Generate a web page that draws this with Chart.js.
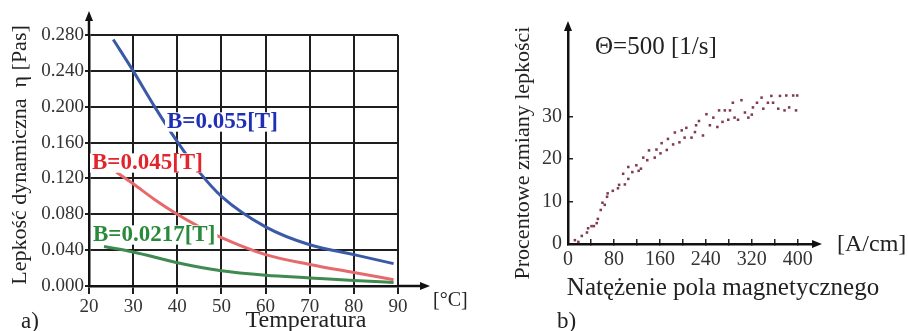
<!DOCTYPE html>
<html>
<head>
<meta charset="utf-8">
<script src="https://cdn.jsdelivr.net/npm/chart.js@4.4.1/dist/chart.umd.min.js"></script>
<style>
  html, body { margin: 0; padding: 0; background: #fff; }
  body { width: 908px; height: 331px; position: relative; overflow: hidden; }
  .box { position: absolute; top: 0; height: 331px; }
  #boxA { left: 0; width: 480px; }
  #boxB { left: 460px; width: 448px; }
</style>
</head>
<body>
<div class="box" id="boxB"><canvas id="chartB"></canvas></div>
<div class="box" id="boxA"><canvas id="chartA"></canvas></div>
<script>
// ---------- data: chart a) viscosity vs temperature ----------
const tempBlue  = [25.5, 30, 35, 40, 45, 50, 60, 70, 80, 89];
const viscBlue  = [0.275, 0.240, 0.199, 0.161, 0.127, 0.100, 0.066, 0.046, 0.035, 0.025];
const tempRed   = [26.2, 30, 35, 40, 45, 50, 60, 70, 80, 89];
const viscRed   = [0.127, 0.114, 0.096, 0.080, 0.066, 0.054, 0.035, 0.024, 0.015, 0.007];
const tempGreen = [23.4, 30, 40, 50, 60, 70, 80, 89];
const viscGreen = [0.044, 0.038, 0.026, 0.017, 0.012, 0.009, 0.006, 0.004];
const seriesLabels = ['B=0.055[T]', 'B=0.045[T]', 'B=0.0217[T]'];
const tempTicks = [20, 30, 40, 50, 60, 70, 80, 90];
const viscTicks = [0.000, 0.040, 0.080, 0.120, 0.160, 0.200, 0.240, 0.280];

// ---------- data: chart b) % viscosity change vs field strength ----------
const fieldX = [12, 18, 24, 33, 35, 41, 45, 50, 52, 57, 60, 64, 68, 69, 78, 87, 89, 96, 99, 105, 105, 112, 119, 123, 127,
                131, 138, 141, 151, 154, 161, 163, 172, 174, 183, 186, 194, 198, 203, 206, 215, 221, 223, 228, 235,
                241, 247, 253, 260, 263, 269, 273, 279, 282, 287, 290, 296, 302, 308, 314, 320, 322, 329, 337, 340,
                348, 354, 357, 366, 369, 377, 380, 385, 392, 397, 399];
const fieldY = [0.9, 0.5, 1.9, 2.7, 3.7, 4.2, 4.2, 4.9, 5.9, 8.0, 9.7, 9.2, 11.1, 11.9, 12.5, 13.1, 13.9, 16.5, 14.0, 15.3, 18.1, 16.9, 18.5, 17.2, 17.7,
                20.3, 19.7, 22.0, 20.3, 22.2, 21.3, 23.7, 22.1, 24.7, 23.4, 26.2, 23.9, 26.7, 25.0, 27.3, 25.0, 26.3, 27.9, 28.9, 25.5,
                30.5, 27.9, 29.7, 27.5, 31.4, 28.7, 31.4, 29.2, 31.4, 33.2, 29.7, 29.2, 33.8, 30.9, 29.7, 30.4, 32.1, 33.2, 34.4, 31.8,
                33.2, 34.8, 33.2, 31.8, 34.8, 31.4, 34.9, 32.1, 34.9, 31.4, 34.9];
const fieldTickLabels = [0, 80, 160, 240, 320, 400];
const changeTickLabels = [0, 10, 20, 30];

function pts(xs, ys) { return xs.map((x, i) => ({ x: x, y: ys[i] })); }

const SERIF = "'Liberation Serif', 'DejaVu Serif', serif";

// overlay plugin: axis arrows, free text, labelled boxes
const overlay = {
  id: 'overlay',
  afterDatasetsDraw(chart, args, opts) {
    const ctx = chart.ctx;
    (opts.boxes || []).forEach(t => {
      ctx.save();
      ctx.font = (t.weight || 'normal') + ' ' + t.size + 'px ' + SERIF;
      const w = ctx.measureText(t.text).width;
      ctx.fillStyle = '#fff';
      ctx.fillRect(t.x - 2, t.y - t.size * 0.42, w + 4, t.size * 0.84);
      ctx.fillStyle = t.color;
      ctx.textAlign = 'left';
      ctx.textBaseline = 'middle';
      ctx.fillText(t.text, t.x, t.y);
      ctx.restore();
    });
  },
  afterDraw(chart, args, opts) {
    const ctx = chart.ctx;
    const a = chart.chartArea;
    const ar = opts.arrows;
    if (ar) {
      ctx.save();
      ctx.strokeStyle = '#111';
      ctx.fillStyle = '#111';
      ctx.lineWidth = ar.width;
      const xTipY = a.top - ar.up;
      ctx.beginPath(); ctx.moveTo(a.left, a.top); ctx.lineTo(a.left, xTipY + 6); ctx.stroke();
      ctx.beginPath(); ctx.moveTo(a.left, xTipY); ctx.lineTo(a.left - 4, xTipY + 10); ctx.lineTo(a.left + 4, xTipY + 10); ctx.closePath(); ctx.fill();
      const tipX = a.right + ar.right;
      ctx.beginPath(); ctx.moveTo(a.right, a.bottom); ctx.lineTo(tipX - 6, a.bottom); ctx.stroke();
      ctx.beginPath(); ctx.moveTo(tipX, a.bottom); ctx.lineTo(tipX - 10, a.bottom - 4); ctx.lineTo(tipX - 10, a.bottom + 4); ctx.closePath(); ctx.fill();
      ctx.restore();
    }
    (opts.texts || []).forEach(t => {
      ctx.save();
      ctx.font = (t.weight || 'normal') + ' ' + t.size + 'px ' + SERIF;
      ctx.fillStyle = t.color || '#222';
      ctx.textAlign = t.align || 'center';
      ctx.textBaseline = 'middle';
      ctx.translate(t.x, t.y);
      if (t.rot) ctx.rotate(t.rot);
      ctx.fillText(t.text, 0, 0);
      ctx.restore();
    });
  }
};

Chart.defaults.animation = false;
Chart.defaults.font.family = SERIF;

// ---------- chart a) ----------
new Chart(document.getElementById('chartA'), {
  type: 'line',
  data: {
    datasets: [
      { label: seriesLabels[0], data: pts(tempBlue, viscBlue), borderColor: '#3a5aa8', borderWidth: 3, pointRadius: 0, tension: 0.4, cubicInterpolationMode: 'monotone', fill: false },
      { label: seriesLabels[1], data: pts(tempRed, viscRed), borderColor: '#e66a6c', borderWidth: 3, pointRadius: 0, tension: 0.4, cubicInterpolationMode: 'monotone', fill: false },
      { label: seriesLabels[2], data: pts(tempGreen, viscGreen), borderColor: '#3f8a50', borderWidth: 3, pointRadius: 0, tension: 0.4, cubicInterpolationMode: 'monotone', fill: false }
    ]
  },
  options: {
    responsive: true,
    maintainAspectRatio: false,
    layout: { padding: { top: 35, right: 82, left: 0, bottom: 0 } },
    plugins: {
      legend: { display: false },
      tooltip: { enabled: false },
      overlay: {
        arrows: { up: 24, right: 32, width: 2.5 },
        boxes: [
          { text: seriesLabels[0], x: 167, y: 122, size: 23, weight: 'bold', color: '#1f2fb6' },
          { text: seriesLabels[1], x: 92, y: 163, size: 23, weight: 'bold', color: '#e3242c' },
          { text: seriesLabels[2], x: 93, y: 235, size: 23, weight: 'bold', color: '#2a8a3c' }
        ],
        texts: [
          { text: 'Lepkość dynamiczna  η [Pas]', x: 20, y: 155, rot: -Math.PI / 2, size: 22 },
          { text: 'Temperatura', x: 306, y: 321, size: 24 },
          { text: '[°C]', x: 433, y: 301, size: 20, align: 'left' },
          { text: 'a)', x: 21, y: 322, size: 23, align: 'left' }
        ]
      }
    },
    scales: {
      x: {
        type: 'linear', min: tempTicks[0], max: tempTicks[tempTicks.length - 1],
        afterBuildTicks: s => { s.ticks = tempTicks.map(v => ({ value: v })); },
        afterFit: s => { s.height = 45; },
        ticks: { font: { size: 19, family: SERIF }, color: '#333', padding: 2, maxRotation: 0, autoSkip: false },
        grid: { color: '#1e1e1e', lineWidth: 2, tickLength: 8 },
        border: { color: '#111', width: 2.5 }
      },
      y: {
        type: 'linear', min: viscTicks[0], max: viscTicks[viscTicks.length - 1],
        afterBuildTicks: s => { s.ticks = viscTicks.map(v => ({ value: v })); },
        afterFit: s => { s.width = 89; },
        ticks: { font: { size: 19, family: SERIF }, color: '#333', padding: 1, callback: v => Number(v).toFixed(3) },
        grid: { color: '#1e1e1e', lineWidth: 2, tickLength: 4 },
        border: { color: '#111', width: 2.5 }
      }
    }
  },
  plugins: [overlay]
});

// ---------- chart b) ----------
new Chart(document.getElementById('chartB'), {
  type: 'scatter',
  data: {
    datasets: [
      { label: 'Θ=500 [1/s]', data: pts(fieldX, fieldY), backgroundColor: '#803c4e', borderColor: '#803c4e', pointStyle: 'rect', pointRadius: 1.8, borderWidth: 0 }
    ]
  },
  options: {
    responsive: true,
    maintainAspectRatio: false,
    layout: { padding: { top: 27, right: 93, left: 0, bottom: 0 } },
    plugins: {
      legend: { display: false },
      tooltip: { enabled: false },
      overlay: {
        arrows: { up: 6, right: 7, width: 2.5 },
        texts: [
          { text: 'Procentowe zmiany lepkości', x: 63, y: 153, rot: -Math.PI / 2, size: 22 },
          { text: 'Natężenie pola magnetycznego', x: 263, y: 288, size: 25 },
          { text: '[A/cm]', x: 377, y: 245, size: 24, align: 'left' },
          { text: 'Θ=500 [1/s]', x: 135, y: 47, size: 25, align: 'left' },
          { text: 'b)', x: 97, y: 322, size: 23, align: 'left' }
        ]
      }
    },
    scales: {
      x: {
        type: 'linear', min: 0, max: 430,
        ticks: { stepSize: 40, includeBounds: false, font: { size: 20, family: SERIF }, color: '#333', padding: 9, maxRotation: 0, autoSkip: false,
                 callback: v => fieldTickLabels.includes(v) ? String(v) : '' },
        afterFit: s => { s.height = 87; },
        grid: { drawOnChartArea: false, tickLength: -5, lineWidth: 1.5, color: c => (c.tick && c.tick.value > 400) ? 'rgba(0,0,0,0)' : '#222' },
        border: { color: '#111', width: 2.5 }
      },
      y: {
        type: 'linear', min: 0, max: 51,
        ticks: { stepSize: 5, includeBounds: false, font: { size: 20, family: SERIF }, color: '#333', padding: 11,
                 callback: v => changeTickLabels.includes(v) ? String(v) : '' },
        afterFit: s => { s.width = 108; },
        grid: { drawOnChartArea: false, tickLength: -5, lineWidth: 1.5, color: c => (c.tick && c.tick.value > 35) ? 'rgba(0,0,0,0)' : '#222' },
        border: { color: '#111', width: 2.5 }
      }
    }
  },
  plugins: [overlay]
});
</script>
</body>
</html>
